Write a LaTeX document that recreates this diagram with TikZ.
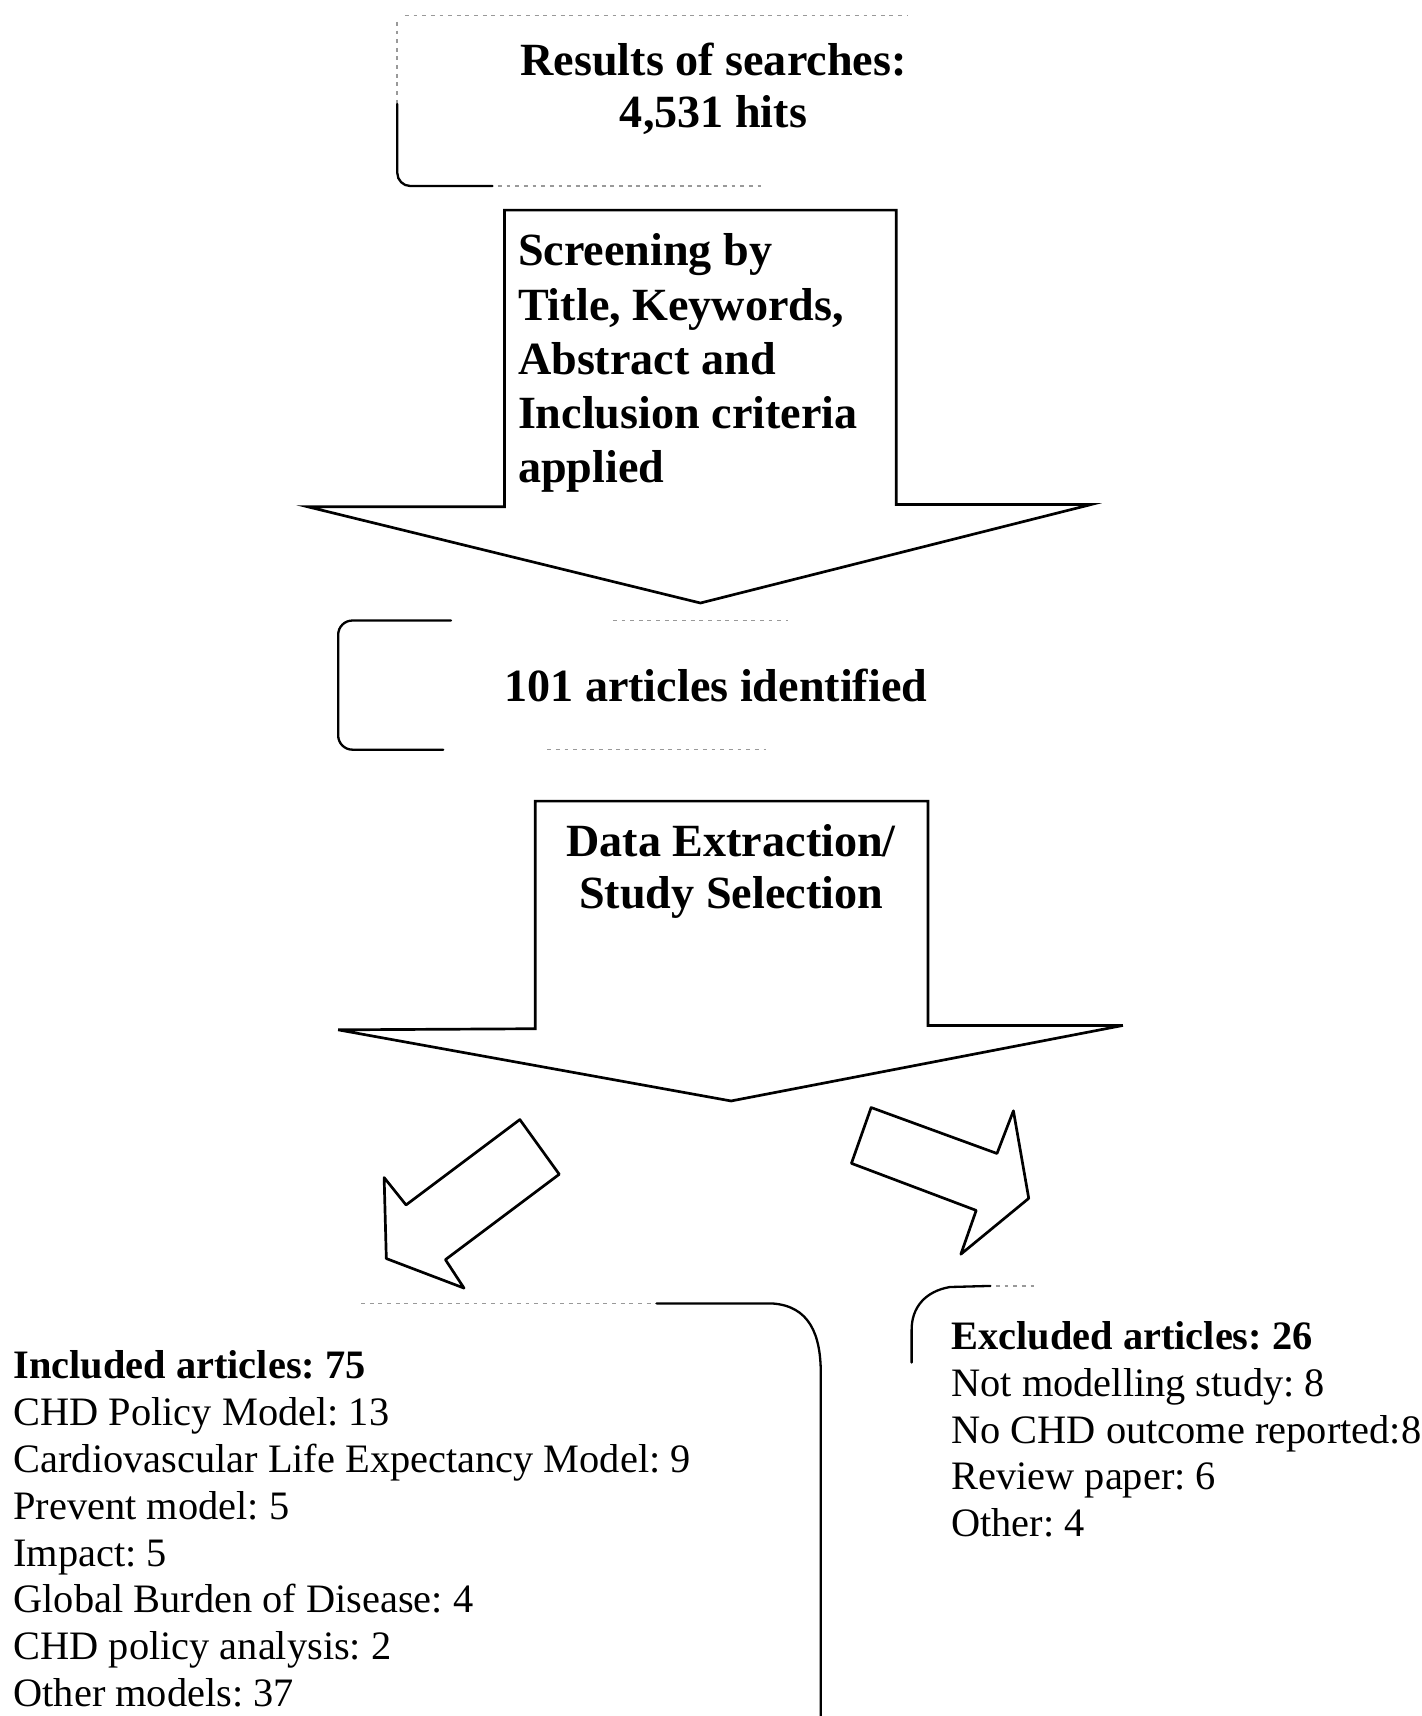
\documentclass[tikz,border=0pt]{standalone}
\usepackage{fontspec}
\setmainfont{Liberation Serif}
\begin{document}
\frenchspacing
\begin{tikzpicture}[x=0.02cm,y=-0.02cm,
  bigarrow/.style={draw=black,line width=1.4pt,line join=miter,fill=white},
  smallarrow/.style={draw=black,line width=1.4pt,line join=round,fill=white},
  bracket/.style={draw=black,line width=1.2pt,line cap=round},
  faint/.style={draw=black!40,line width=0.8pt,dash pattern=on 2pt off 2.5pt},
  headtext/.style={inner sep=0pt,font=\fontsize{24}{27.2}\selectfont\bfseries,align=center},
  listtext/.style={inner sep=0pt,font=\fontsize{21}{24.4}\selectfont,align=left}]
\useasboundingbox (0,0) rectangle (1299,1568);
\fill[white] (0,0) rectangle (1299,1568);

% top box (Results of searches)
\draw[faint] (370,14) -- (830,14);
\draw[faint] (363,20) -- (363,95);
\draw[bracket] (363,95) -- (363,158) arc[start angle=180,end angle=270,x radius=12,y radius=-12] -- (450,170);
\draw[faint] (455,170) -- (700,170);
\node[headtext] (res) at (652,81) {Results of searches:\\4,531 hits};

% arrow 1
\draw[bigarrow] (461,192) -- (819,192) -- (819,461) -- (997,461) -- (640,551) -- (281,463) -- (461,463) -- cycle;
\node[headtext,align=left,anchor=west,font=\fontsize{24}{28.2}\selectfont\bfseries] (scr) at (473,332)
  {Screening by\\Title, Keywords,\\Abstract and\\Inclusion criteria\\applied};

% box 101 articles
\draw[bracket] (412,567) -- (322,567) arc[start angle=90,end angle=180,x radius=13,y radius=-13] -- (309,672) arc[start angle=180,end angle=270,x radius=13,y radius=-13] -- (405,685);
\draw[faint] (560,567) -- (720,567);
\draw[faint] (500,685) -- (700,685);
\node[headtext] (ident) at (654,626) {101 articles identified};

% arrow 2
\draw[bigarrow] (489,732) -- (848,732) -- (848,937) -- (1026,937) -- (668,1006) -- (309,941) -- (489,940) -- cycle;
\node[headtext] (extr) at (668,796) {Data Extraction/\\Study Selection};

% small arrows
\draw[smallarrow] (475,1023) -- (511,1073) -- (407,1151) -- (424,1177) -- (353,1150) -- (351,1076) -- (371,1101) -- cycle;
\draw[smallarrow] (796,1012) -- (911,1054) -- (926,1015) -- (940,1095) -- (878,1146) -- (892,1106) -- (778,1063) -- cycle;

% included bracket
\draw[faint] (330,1191) -- (600,1191);
\draw[bracket] (600,1191) -- (705,1191) .. controls (740,1193) and (750,1220) .. (750,1255) -- (750,1568);
\node[listtext,anchor=west] (inc) at (12,1397)
  {\textbf{Included articles: 75}\\CHD Policy Model: 13\\Cardiovascular Life Expectancy Model: 9\\Prevent model: 5\\Impact: 5\\Global Burden of Disease: 4\\CHD policy analysis: 2\\Other models: 37};

% excluded bracket
\draw[bracket] (905,1175) -- (868,1176) .. controls (845,1180) and (833,1195) .. (833,1215) -- (833,1245);
\draw[faint] (910,1175) -- (945,1175);
\node[listtext,anchor=west] (exc) at (869,1306)
  {\textbf{Excluded articles: 26}\\Not modelling study: 8\\No CHD outcome reported:8\\Review paper: 6\\Other: 4};
\end{tikzpicture}
\end{document}
